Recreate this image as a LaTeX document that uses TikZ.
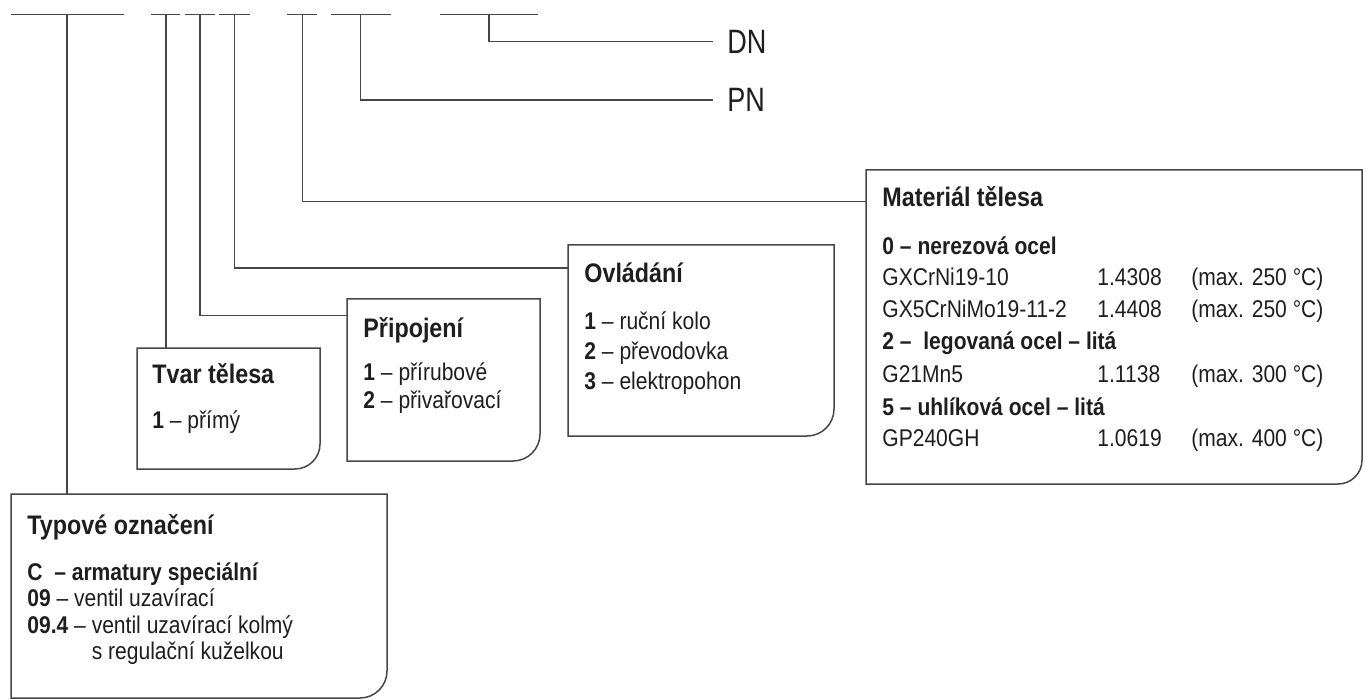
\documentclass[tikz,border=0pt]{standalone}
\usepackage{fontspec}
\setmainfont{Liberation Sans}[FakeStretch=0.87]
\newfontfamily\dnfont{Liberation Sans}[FakeStretch=0.8]
\definecolor{linec}{RGB}{70,70,70}
\definecolor{txt}{RGB}{30,30,30}
\tikzset{
  ln/.style={draw=linec, line width=0.75pt},
  hd/.style={anchor=base west, inner sep=0pt, text=txt, font=\fontsize{13.4pt}{16pt}\selectfont\bfseries},
  bd/.style={anchor=base west, inner sep=0pt, text=txt, font=\fontsize{12.1pt}{14pt}\selectfont},
  big/.style={anchor=west, inner sep=0pt, text=txt, font=\dnfont\fontsize{16.9pt}{20pt}\selectfont},
  frame/.style={inner sep=0pt, outer sep=0pt, anchor=north west, draw=none},
}
\newcommand\cornerbox[2]{%
  \draw[ln] (#1.north west) -- (#1.north east) -- ([yshift=#2]#1.south east)
    arc[start angle=0,end angle=-90,radius=#2] -- (#1.south west) -- cycle;}
\begin{document}
\begin{tikzpicture}[x=0.5pt,y=-0.5pt]
\useasboundingbox (0,0) rectangle (1365,700);
% top code line segments
\draw[ln] (11,14.7) -- (124,14.7);
\draw[ln] (151,14.7) -- (180,14.7);
\draw[ln] (185,14.7) -- (215,14.7);
\draw[ln] (219,14.7) -- (250,14.7);
\draw[ln] (287,14.7) -- (317,14.7);
\draw[ln] (331,14.7) -- (391,14.7);
\draw[ln] (440,14.7) -- (538,14.7);
\coordinate (kTyp) at (67,14.7);
\coordinate (kTvar) at (166,14.7);
\coordinate (kPri) at (200,14.7);
\coordinate (kOvl) at (234.7,14.7);
\coordinate (kMat) at (302.5,14.7);
\coordinate (kPN) at (360.5,14.7);
\coordinate (kDN) at (489,14.7);

% boxes
\node[frame, minimum width=188pt, minimum height=102pt] (typ) at (11,494) {};
\node[frame, minimum width=91.5pt, minimum height=60.5pt] (tvar) at (137,348) {};
\node[frame, minimum width=96.5pt, minimum height=81pt] (pri) at (347,299) {};
\node[frame, minimum width=133pt, minimum height=95.5pt] (ovl) at (568,245) {};
\node[frame, minimum width=248pt, minimum height=157pt] (mat) at (866,170) {};
\cornerbox{typ}{13.5pt}
\cornerbox{tvar}{12.5pt}
\cornerbox{pri}{13.5pt}
\cornerbox{ovl}{13.5pt}
\cornerbox{mat}{12pt}

% DN / PN labels
\node[big] (DN) at (727,41.7) {DN};
\node[big] (PN) at (727,100) {PN};

% connectors
\draw[ln] (kTyp) -- (kTyp |- typ.north);
\draw[ln] (kTvar) -- (kTvar |- tvar.north);
\draw[ln] (kPri) |- ([yshift=-8.2pt]pri.north west);
\draw[ln] (kOvl) |- ([yshift=-11.5pt]ovl.north west);
\draw[ln] (kMat) |- ([yshift=-15.85pt]mat.north west);
\draw[ln] (kPN) |- ([xshift=-7pt]PN.west);
\draw[ln] (kDN) |- ([xshift=-7pt]DN.west);

% Typove oznaceni
\node[hd] (typh) at (27,534) {Typové označení};
\node[bd] (typ1) at (27,580) {\textbf{C \ – armatury speciální}};
\node[bd] (typ2) at (27,606) {\textbf{09} – ventil uzavírací};
\node[bd] (typ3) at (27,633) {\textbf{09.4} – ventil uzavírací kolmý};
\node[bd] (typ4) at (27,659) {\phantom{\textbf{09.4} – }s regulační kuželkou};

% Tvar telesa
\node[hd] (tvh) at (152,383) {Tvar tělesa};
\node[bd] (tv1) at (152,428) {\textbf{1} – přímý};

% Pripojeni
\node[hd] (prh) at (363,337) {Připojení};
\node[bd] (pr1) at (363,380) {\textbf{1} – přírubové};
\node[bd] (pr2) at (363,408) {\textbf{2} – přivařovací};

% Ovladani
\node[hd] (ovh) at (584,283) {Ovládání};
\node[bd] (ov1) at (584,329) {\textbf{1} – ruční kolo};
\node[bd] (ov2) at (584,359) {\textbf{2} – převodovka};
\node[bd] (ov3) at (584,389) {\textbf{3} – elektropohon};

% Material telesa
\node[hd] (math) at (882,206.7) {Materiál tělesa};
\node[bd] (mat1) at (882,254.5) {\textbf{0 – nerezová ocel}};
\node[bd] (mat2) at (882,285.7) {\makebox[107.5pt][l]{GXCrNi19-10}\makebox[47pt][l]{1.4308}(max. 250 °C)};
\node[bd] (mat3) at (882,317.7) {\makebox[107.5pt][l]{GX5CrNiMo19-11-2}\makebox[47pt][l]{1.4408}(max. 250 °C)};
\node[bd] (mat4) at (882,350) {\textbf{2 – \ legovaná ocel – litá}};
\node[bd] (mat5) at (882,382.3) {\makebox[107.5pt][l]{G21Mn5}\makebox[47pt][l]{1.1138}(max. 300 °C)};
\node[bd] (mat6) at (882,415) {\textbf{5 – uhlíková ocel – litá}};
\node[bd] (mat7) at (882,446.7) {\makebox[107.5pt][l]{GP240GH}\makebox[47pt][l]{1.0619}(max. 400 °C)};
\end{tikzpicture}
\end{document}
